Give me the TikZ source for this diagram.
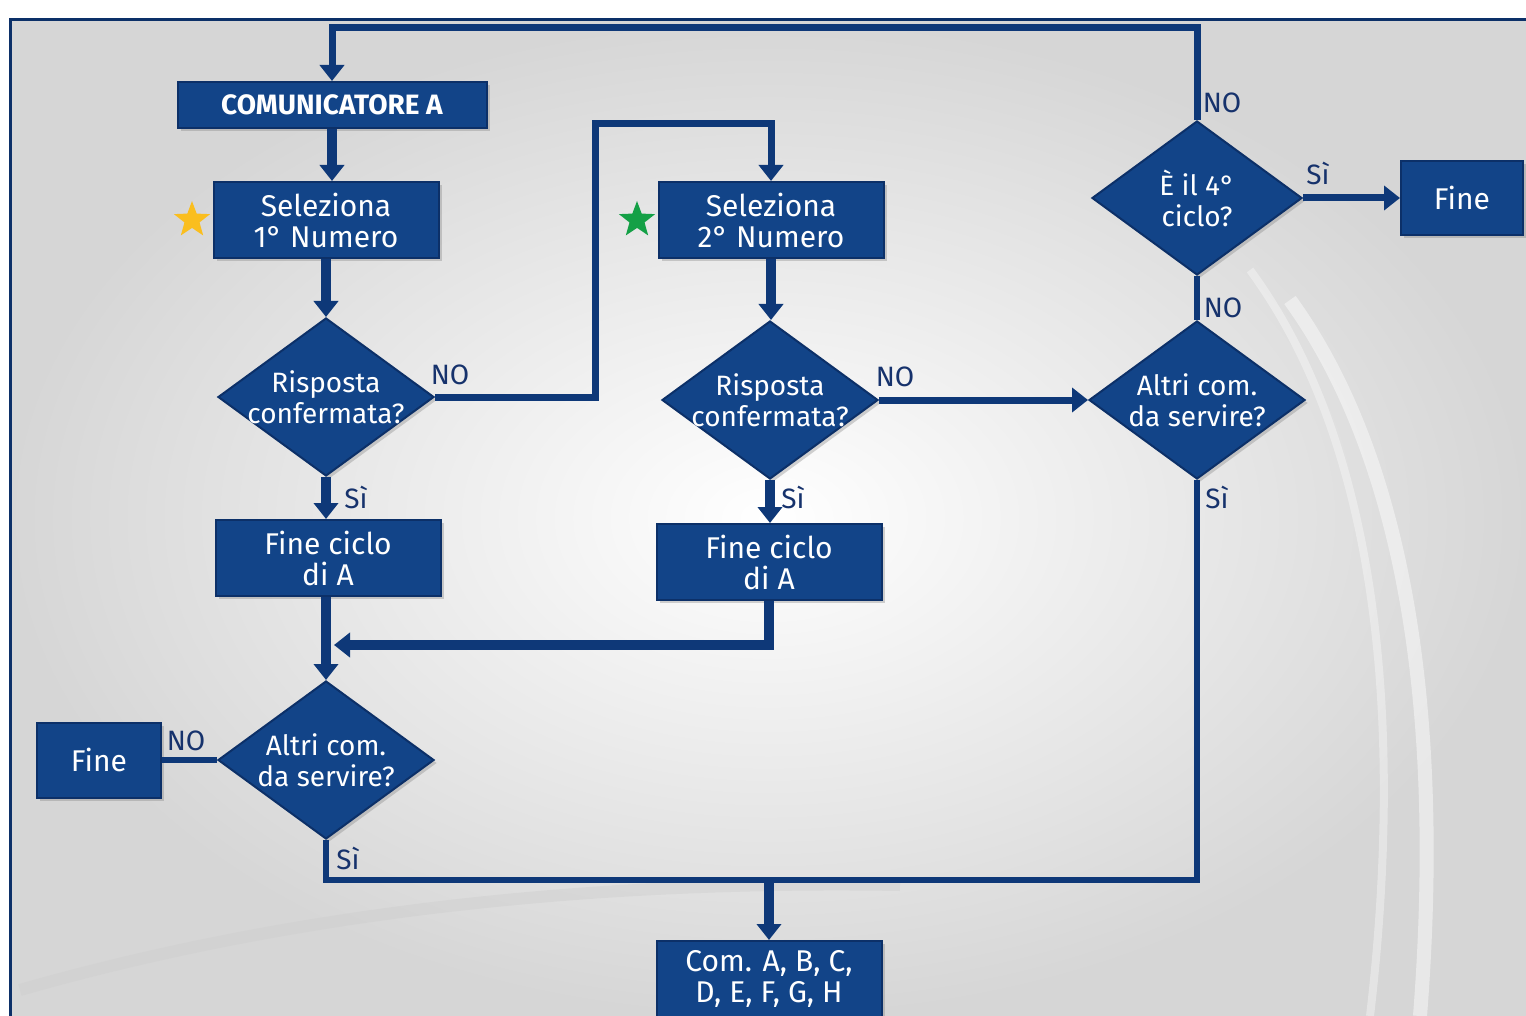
\documentclass[tikz,border=0pt]{standalone}
\usepackage{fontspec}
\usepackage{tikz}
\usetikzlibrary{shapes.geometric, arrows.meta, positioning, shadows, calc, backgrounds}
\newfontfamily\diagfont{Fira Sans}
\definecolor{boxblue}{RGB}{18,68,136}
\definecolor{edgeblue}{RGB}{12,48,104}
\definecolor{lineblue}{RGB}{14,56,120}
\definecolor{labelblue}{RGB}{22,50,108}
\definecolor{stargold}{RGB}{250,190,30}
\definecolor{stargreen}{RGB}{20,160,70}

\tikzset{
    block/.style={rectangle, draw=edgeblue, line width=1pt, fill=boxblue, text=white,
        align=center, font=\diagfont\fontsize{15}{15.5}\selectfont, inner sep=0pt,
        drop shadow={opacity=0.35, shadow xshift=1.5pt, shadow yshift=-1.5pt}},
    decision/.style={diamond, draw=edgeblue, line width=1pt, fill=boxblue, inner sep=0pt,
        minimum width=108pt, minimum height=79pt,
        drop shadow={opacity=0.35, shadow xshift=1.5pt, shadow yshift=-1.5pt}},
    inside/.style={text=white, align=center, font=\diagfont\fontsize{14}{15.5}\selectfont},
    answer/.style={text=labelblue, font=\diagfont\fontsize{14}{14}\selectfont, inner sep=0pt},
    mark star/.style={star, star points=5, star point ratio=2.4, inner sep=0pt, minimum size=19pt},
    flow/.style={draw=lineblue, line width=5pt},
    link/.style={draw=lineblue, line width=3.5pt},
    wire/.style={draw=lineblue, line width=3pt},
    tip/.style={-{Triangle[width=12pt,length=8pt]}}
}

\begin{document}
\begin{tikzpicture}[x=0.5pt,y=-0.5pt]
    \useasboundingbox (0,0) rectangle (1526,1016);

    % Sfondo
    \fill[white] (0,0) rectangle (1526,1016);
    \shade[inner color=white, outer color=gray!32] (10,20) rectangle (1526,1016);
    \draw[white, opacity=0.45, line width=7pt] (1290,300) .. controls (1420,480) and (1440,760) .. (1420,1016);
    \draw[white, opacity=0.35, line width=4pt] (1250,270) .. controls (1390,460) and (1400,760) .. (1370,1016);
    \draw[gray!40, opacity=0.4, line width=6pt] (20,990) .. controls (300,910) and (600,880) .. (900,885);
    \draw[edgeblue, line width=1.5pt] (1526,20) -- (10,20) -- (10,1016);

    % Colonna sinistra
    \node[block, font=\diagfont\bfseries\fontsize{14}{14}\selectfont, minimum width=154.5pt, minimum height=23pt] (comA) at (332,105) {COMUNICATORE A};
    \node[block, minimum width=112.5pt, minimum height=38pt] (selA) at (326,220) {Seleziona\\1° Numero};
    \node[mark star, fill=stargold] (starA) at (192,220) {};
    \node[decision] (rispA) at (326,397) {};
    \node[inside] at (rispA) {Risposta\\confermata?};
    \node[block, minimum width=112.5pt, minimum height=38pt] (fineA) at (328,558) {Fine ciclo\\di A};
    \node[decision] (altriA) at (326,760) {};
    \node[inside] at (altriA) {Altri com.\\da servire?};
    \node[block, minimum width=62pt, minimum height=37.5pt] (stopA) at (99,760) {Fine};

    % Colonna centrale
    \node[block, minimum width=112.5pt, minimum height=38pt] (selB) at (771,220) {Seleziona\\2° Numero};
    \node[mark star, fill=stargreen] (starB) at (637,220) {};
    \node[decision] (rispB) at (770,400) {};
    \node[inside] at (rispB) {Risposta\\confermata?};
    \node[block, minimum width=112.5pt, minimum height=38pt] (fineB) at (769,562) {Fine ciclo\\di A};
    \node[block, minimum width=112.5pt, minimum height=38pt] (comList) at (769,979) {Com. A, B, C,\\D, E, F, G, H};

    % Colonna destra
    \node[decision, minimum width=105pt, minimum height=77pt] (ciclo) at (1197,198) {};
    \node[inside] at (ciclo) {È il 4°\\ciclo?};
    \node[block, minimum width=61pt, minimum height=37pt] (stopB) at (1462,198) {Fine};
    \node[decision] (altriB) at (1197,400) {};
    \node[inside] at (altriB) {Altri com.\\da servire?};

    % Punti di passaggio
    \coordinate (loopA) at (595,124);
    \coordinate (joinA) at (334,645);
    \coordinate (bottomR) at (1197,880);

    % Frecce
    \draw[link, tip] (ciclo.north) -- ++(0,-92) -| (comA.north);
    \draw[flow, tip] (comA.south) -- (comA.south |- selA.north);
    \draw[flow, tip] (selA.south) -- (rispA.north);
    \draw[flow, tip] (rispA.south) -- (rispA.south |- fineA.north);
    \draw[flow, tip] (rispA.south |- fineA.south) -- (altriA.north);
    \draw[link, tip] (rispA.east) -| (loopA) -| (selB.north);
    \draw[flow, tip] (selB.south) -- (selB.south |- rispB.north);
    \draw[flow, tip] (rispB.south) -- (rispB.south |- fineB.north);
    \draw[flow, tip] (fineB.south) |- (joinA);
    \draw[link, tip] (rispB.east) -- (altriB.west);
    \draw[wire] (altriB.north) -- (ciclo.south);
    \draw[link, tip] (ciclo.east) -- (stopB.west);
    \draw[wire] (altriA.west) -- (stopA.east);
    \draw[wire] (altriA.south) |- (bottomR) -- (altriB.south);
    \draw[flow, tip] (comList.north |- bottomR) -- (comList.north);

    % Etichette
    \node[answer] (noTop) at (1222,103) {NO};
    \node[answer] (noA) at (450,375) {NO};
    \node[answer] (siA) at (356,497) {Sì};
    \node[answer] (siB) at (793,497) {Sì};
    \node[answer] (noB) at (895,377) {NO};
    \node[answer] (noC) at (1223,308) {NO};
    \node[answer] (siC) at (1318,173) {Sì};
    \node[answer] (siD) at (1217,497) {Sì};
    \node[answer] (siE) at (348,858) {Sì};
    \node[answer] (noD) at (186,741) {NO};
\end{tikzpicture}
\end{document}
